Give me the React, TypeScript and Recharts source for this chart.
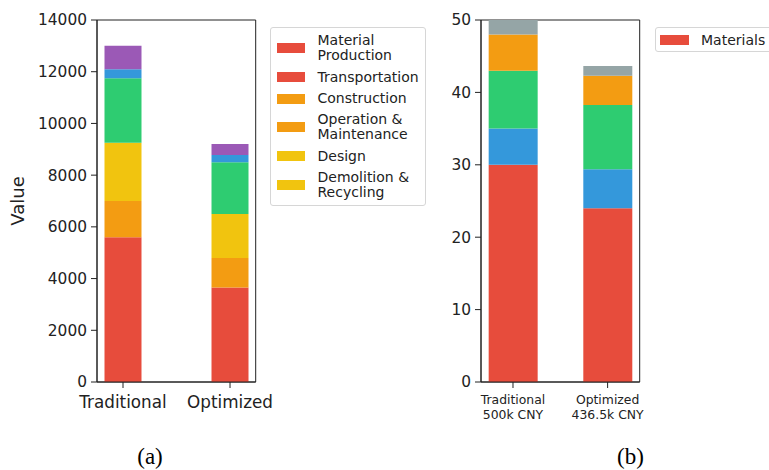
import React from "react";
import { BarChart, Bar, XAxis, YAxis, ReferenceArea } from "recharts";

// ---------- Panel (a) data ----------
const categories = ["Traditional", "Optimized"];
const emissionSeries = [
  "Material\nProduction",
  "Transportation",
  "Construction",
  "Operation &\nMaintenance",
  "Design",
  "Demolition &\nRecycling",
];
const materialProduction = [5600, 3650];
const transportation = [1400, 1150];
const construction = [2250, 1700];
const operationMaintenance = [2500, 2000];
const design = [350, 280];
const demolitionRecycling = [900, 420];
const emissionTicks = [0, 2000, 4000, 6000, 8000, 10000, 12000, 14000];

// ---------- Panel (b) data ----------
const costCategories = ["Traditional\n500k CNY", "Optimized\n436.5k CNY"];
const costSeries = ["Materials", "Labor", "Equipment", "Management", "Other"];
const materials = [30, 24];
const labor = [5, 5.4];
const equipment = [8, 8.85];
const management = [5, 4.05];
const other = [2, 1.35];
const costTicks = [0, 10, 20, 30, 40, 50];
// only the first legend entry is visible within the frame
const costLegendVisible = costSeries.slice(0, 1);

// ---------- styles ----------
const FONT = "DejaVu Sans";
const INK = "#222";
const emissionColors = ["#e74c3c", "#f39c12", "#f1c40f", "#2ecc71", "#3498db", "#9b59b6"];
const emissionLegendColors = ["#e74c3c", "#e74c3c", "#f39c12", "#f39c12", "#f1c40f", "#f1c40f"];
const costColors = ["#e74c3c", "#3498db", "#2ecc71", "#f39c12", "#95a5a6"];

const emissionValues = [
  materialProduction,
  transportation,
  construction,
  operationMaintenance,
  design,
  demolitionRecycling,
];
const costValues = [materials, labor, equipment, management, other];

const emissionData = categories.map((c, i) => {
  const row: Record<string, number | string> = { x: i, name: c };
  emissionValues.forEach((arr, k) => (row["s" + k] = arr[i]));
  return row;
});
const costData = costCategories.map((c, i) => {
  const row: Record<string, number | string> = { x: i, name: c };
  costValues.forEach((arr, k) => (row["c" + k] = arr[i]));
  return row;
});

const domainA: [number, number] = [-0.243, 1.24];
const domainB: [number, number] = [-0.338, 1.339];

const CostTick = (props: any) => {
  const { x, y, payload } = props;
  const lines = costCategories[payload.value].split("\n");
  return (
    <text x={x} y={y} textAnchor="middle" fontSize={12.4} fill={INK} fontFamily={FONT}>
      {lines.map((l, i) => (
        <tspan key={i} x={x} dy={i === 0 ? "0.71em" : 15}>
          {l}
        </tspan>
      ))}
    </text>
  );
};

const ValueLabel = (props: any) => {
  const { viewBox } = props;
  const cx = 17.5;
  const cy = viewBox.y + viewBox.height / 2;
  return (
    <text
      x={cx}
      y={cy}
      transform={`rotate(-90 ${cx} ${cy})`}
      textAnchor="middle"
      dominantBaseline="central"
      fontSize={18}
      fill={INK}
      fontFamily={FONT}
    >
      Value
    </text>
  );
};

export default function App() {
  return (
    <div
      style={{
        position: "absolute",
        left: 0,
        top: 0,
        width: 769,
        height: 470,
        overflow: "hidden",
        background: "#fff",
        fontFamily: FONT,
      }}
    >
      {/* Panel (a) */}
      <div style={{ position: "absolute", left: 0, top: 0 }}>
        <BarChart
          width={300}
          height={470}
          data={emissionData}
          margin={{ top: 20, right: 44.3, bottom: 48, left: 0 }}
          barSize={37}
        >
          <XAxis
            dataKey="x"
            type="number"
            domain={domainA}
            allowDataOverflow
            ticks={[0, 1]}
            tickFormatter={(v: number) => categories[v]}
            height={40}
            tickSize={6}
            tickMargin={8}
            axisLine={{ stroke: INK, strokeWidth: 1 }}
            tickLine={{ stroke: INK, strokeWidth: 1 }}
            tick={{ fontSize: 16.8, fill: INK, fontFamily: FONT }}
          />
          <YAxis
            type="number"
            domain={[0, 14000]}
            allowDataOverflow
            ticks={emissionTicks}
            width={97}
            tickSize={6}
            tickMargin={4}
            axisLine={{ stroke: INK, strokeWidth: 1 }}
            tickLine={{ stroke: INK, strokeWidth: 1 }}
            tick={{ fontSize: 15.4, fill: INK, fontFamily: FONT }}
            label={<ValueLabel />}
          />
          {emissionSeries.map((name, k) => (
            <Bar
              key={name}
              dataKey={"s" + k}
              name={name}
              stackId="a"
              fill={emissionColors[k]}
              isAnimationActive={false}
            />
          ))}
          <ReferenceArea
            x1={domainA[0]}
            x2={domainA[1]}
            y1={0}
            y2={14000}
            fill="none"
            stroke={INK}
            strokeWidth={1}
            ifOverflow="visible"
          />
        </BarChart>
      </div>

      {/* Panel (a) legend */}
      <div
        style={{
          position: "absolute",
          left: 270,
          top: 27,
          width: 156,
          boxSizing: "border-box",
          border: "1px solid #d6d6d6",
          borderRadius: 3,
          padding: "5px 0 4px 6px",
          display: "flex",
          flexDirection: "column",
          gap: 6,
          background: "#fff",
        }}
      >
        {emissionSeries.map((name, k) => (
          <div key={name} style={{ display: "flex", alignItems: "center" }}>
            <div
              style={{
                width: 28,
                height: 10,
                background: emissionLegendColors[k],
                flex: "none",
              }}
            />
            <div
              style={{
                marginLeft: 12.5,
                fontSize: 14,
                lineHeight: "15.3px",
                color: INK,
                whiteSpace: "pre-line",
              }}
            >
              {name}
            </div>
          </div>
        ))}
      </div>

      {/* Panel (b) */}
      <div style={{ position: "absolute", left: 430, top: 0 }}>
        <BarChart
          width={250}
          height={470}
          data={costData}
          margin={{ top: 20, right: 40.3, bottom: 48, left: 0 }}
          barSize={49}
        >
          <XAxis
            dataKey="x"
            type="number"
            domain={domainB}
            allowDataOverflow
            ticks={[0, 1]}
            height={40}
            tickSize={6}
            tickMargin={7}
            axisLine={{ stroke: INK, strokeWidth: 1 }}
            tickLine={{ stroke: INK, strokeWidth: 1 }}
            tick={<CostTick />}
          />
          <YAxis
            type="number"
            domain={[0, 50]}
            allowDataOverflow
            ticks={costTicks}
            width={51}
            tickSize={6}
            tickMargin={4}
            axisLine={{ stroke: INK, strokeWidth: 1 }}
            tickLine={{ stroke: INK, strokeWidth: 1 }}
            tick={{ fontSize: 15.4, fill: INK, fontFamily: FONT }}
          />
          {costSeries.map((name, k) => (
            <Bar
              key={name}
              dataKey={"c" + k}
              name={name}
              stackId="b"
              fill={costColors[k]}
              isAnimationActive={false}
            />
          ))}
          <ReferenceArea
            x1={domainB[0]}
            x2={domainB[1]}
            y1={0}
            y2={50}
            fill="none"
            stroke={INK}
            strokeWidth={1}
            ifOverflow="visible"
          />
        </BarChart>
      </div>

      {/* Panel (b) legend (box runs past the right edge) */}
      <div
        style={{
          position: "absolute",
          left: 655,
          top: 27,
          width: 130,
          height: 25,
          boxSizing: "border-box",
          border: "1px solid #d6d6d6",
          borderRadius: 3,
          padding: "0 0 0 4px",
          display: "flex",
          alignItems: "center",
          background: "#fff",
          whiteSpace: "nowrap",
        }}
      >
        {costLegendVisible.map((name, k) => (
          <div key={name} style={{ display: "flex", alignItems: "center" }}>
            <div style={{ width: 29, height: 10, background: costColors[k], flex: "none" }} />
            <div style={{ marginLeft: 12, fontSize: 14, color: INK }}>{name}</div>
          </div>
        ))}
      </div>

      {/* captions */}
      <div
        style={{
          position: "absolute",
          left: 150,
          top: 457,
          transform: "translate(-50%, -50%)",
          fontFamily: "Liberation Serif",
          fontSize: 23,
          color: "#000",
        }}
      >
        (a)
      </div>
      <div
        style={{
          position: "absolute",
          left: 630.5,
          top: 457,
          transform: "translate(-50%, -50%)",
          fontFamily: "Liberation Serif",
          fontSize: 23,
          color: "#000",
        }}
      >
        (b)
      </div>
    </div>
  );
}
